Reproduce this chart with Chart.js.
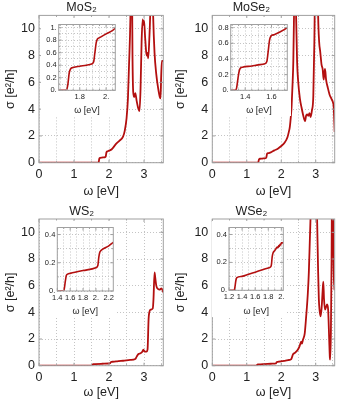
<!DOCTYPE html>
<html>
<head>
<meta charset="utf-8">
<script src="https://cdn.jsdelivr.net/npm/chart.js"></script>
<style>
  html, body { margin: 0; padding: 0; background: #fff; }
  #wrap { position: relative; width: 337px; height: 405px; overflow: hidden; }
  canvas { position: absolute; }
</style>
</head>
<body>
<div id="wrap">
  <canvas id="mos2" width="168" height="200" style="left:0;top:0"></canvas>
  <canvas id="mose2" width="169" height="200" style="left:168px;top:0"></canvas>
  <canvas id="ws2" width="168" height="205" style="left:0;top:200px"></canvas>
  <canvas id="wse2" width="169" height="205" style="left:168px;top:200px"></canvas>
  <canvas id="mos2Inset" width="78" height="98" style="left:41px;top:18px"></canvas>
  <canvas id="mose2Inset" width="78" height="98" style="left:213px;top:18px"></canvas>
  <canvas id="ws2Inset" width="77" height="96" style="left:40px;top:221px"></canvas>
  <canvas id="wse2Inset" width="75" height="96" style="left:212px;top:221px"></canvas>
</div>
<script>
// Optical conductivity sigma(omega) in units of e^2/h, energies in eV
const mos2Energy = [0, 1.60, 1.69, 1.70, 1.71, 1.72, 1.73, 1.75, 1.80, 1.85, 1.89, 1.905, 1.915, 1.925, 1.935, 1.95, 2.00, 2.07,
    2.2, 2.3, 2.4, 2.45, 2.5, 2.54, 2.57, 2.61, 2.63, 2.65, 2.67, 2.69, 2.72, 2.75, 2.79, 2.83, 2.87, 2.90, 2.93, 2.96, 2.98,
    3.00, 3.03, 3.06, 3.08, 3.10, 3.12, 3.15, 3.18, 3.20, 3.23, 3.26, 3.30, 3.35, 3.40, 3.45, 3.47, 3.49, 3.51, 3.55];
const mos2Sigma = [0, 0, 0, 0.01, 0.10, 0.28, 0.34, 0.365, 0.385, 0.40, 0.42, 0.45, 0.60, 0.76, 0.82, 0.84, 0.90, 0.99,
    1.4, 1.65, 1.95, 2.4, 3.3, 4.8, 7.2, 10.8, 15, 15, 8.0, 5.3, 4.9, 5.2, 4.6, 4.1, 3.85, 5.5, 9.0, 10.7, 10.3,
    10.6, 9.4, 8.3, 8.0, 8.2, 7.8, 9.2, 11.5, 15, 15, 11, 8.2, 6.6, 5.6, 4.9, 4.8, 6.5, 7.6, 7.6];

const mose2Energy = [0, 1.30, 1.325, 1.335, 1.345, 1.355, 1.365, 1.38, 1.45, 1.50, 1.55, 1.565, 1.575, 1.585, 1.595, 1.62, 1.66, 1.72,
    1.8, 1.9, 2.0, 2.1, 2.18, 2.22, 2.25, 2.28, 2.30, 2.33, 2.35, 2.37, 2.39, 2.41, 2.43, 2.46, 2.49, 2.54, 2.59, 2.64, 2.69,
    2.72, 2.75, 2.78, 2.82, 2.85, 2.89, 2.93, 2.96, 2.98, 3.00, 3.05, 3.07, 3.10, 3.13, 3.17, 3.20, 3.23, 3.25, 3.27, 3.30,
    3.35, 3.40, 3.46, 3.50, 3.52, 3.55];
const mose2Sigma = [0, 0, 0, 0.03, 0.15, 0.25, 0.285, 0.295, 0.31, 0.325, 0.34, 0.37, 0.50, 0.64, 0.69, 0.71, 0.74, 0.80,
    0.92, 1.05, 1.25, 1.5, 1.9, 2.3, 2.7, 3.5, 4.2, 6.0, 7.6, 11, 15, 15, 11, 7.5, 6.1, 4.8, 4.1, 3.5, 3.1,
    3.5, 3.6, 3.5, 3.7, 3.4, 3.9, 5.0, 9, 13, 15, 15, 11, 9.0, 8.3, 7.3, 7.0, 6.2, 6.7, 7.0, 6.2,
    5.6, 5.1, 4.75, 4.5, 4.2, 2.3];

const ws2Energy = [0, 1.45, 1.50, 1.51, 1.525, 1.54, 1.56, 1.6, 1.8, 2.0, 2.03, 2.045, 2.06, 2.075, 2.1, 2.2, 2.27,
    2.4, 2.6, 2.75, 2.79, 2.84, 2.90, 2.95, 2.98, 3.02, 3.07, 3.10, 3.13, 3.15, 3.19, 3.25, 3.27, 3.30, 3.32, 3.35, 3.38,
    3.44, 3.50, 3.55];
const ws2Sigma = [0, 0, 0, 0.02, 0.07, 0.11, 0.12, 0.125, 0.145, 0.165, 0.18, 0.24, 0.275, 0.285, 0.295, 0.32, 0.345,
    0.37, 0.43, 0.5, 0.68, 0.88, 0.93, 1.05, 1.2, 1.05, 1.05, 1.2, 3.5, 4.0, 4.2, 4.3, 5.0, 7.0, 6.6, 6.0, 5.8,
    5.7, 5.8, 5.5];

const wse2Energy = [0, 1.25, 1.28, 1.29, 1.305, 1.32, 1.4, 1.5, 1.6, 1.7, 1.8, 1.84, 1.85, 1.86, 1.875, 1.9, 1.92, 1.94,
    1.95, 1.96, 1.97, 1.98, 1.99, 2.0, 2.02, 2.1, 2.2, 2.29, 2.32, 2.34, 2.39, 2.48, 2.53, 2.58, 2.60, 2.63, 2.68, 2.72,
    2.77, 2.80, 2.83, 2.86, 2.89, 3.01, 3.04, 3.07, 3.09, 3.11, 3.14, 3.17, 3.20, 3.22, 3.24, 3.27, 3.30, 3.33, 3.36,
    3.39, 3.41, 3.42, 3.44, 3.46, 3.475, 3.49, 3.51, 3.53, 3.55];
const wse2Sigma = [0, 0, 0, 0.02, 0.07, 0.09, 0.10, 0.115, 0.13, 0.145, 0.16, 0.17, 0.19, 0.24, 0.27, 0.285, 0.30, 0.31,
    0.305, 0.32, 0.315, 0.33, 0.325, 0.34, 0.34, 0.37, 0.42, 0.5, 0.7, 0.85, 0.95, 1.2, 1.45, 1.8, 1.65, 1.95, 2.4, 3.6,
    5.4, 7.0, 9.5, 12, 15, 15, 11, 7.0, 5.0, 4.2, 3.7, 4.3, 5.6, 6.3, 5.0, 4.2, 4.4, 4.6, 4.2,
    2.0, 0.6, 0.45, 2.5, 8, 15, 15, 9, 5.7, 5.9];

const FONT = "'Liberation Sans', Arial, sans-serif";
const RED = '#b30f0f';
const GRID = '#c4c4c4';
const FRAME = '#a0a0a0';
const TEXT = '#222';

// white background, grey frame with small inward ticks (Mathematica style)
const framePlugin = {
    id: 'frame',
    beforeDraw(chart) {
        const { ctx, width, height } = chart;
        ctx.save();
        ctx.fillStyle = '#ffffff';
        ctx.fillRect(0, 0, width, height);
        ctx.restore();
    },
    afterDraw(chart) {
        const { ctx, chartArea: a } = chart;
        const xs = chart.scales.x, ys = chart.scales.y;
        ctx.save();
        ctx.strokeStyle = FRAME;
        ctx.lineWidth = 1;
        ctx.beginPath();
        xs.ticks.forEach(t => {
            const px = xs.getPixelForValue(t.value);
            const len = t.label ? 3 : 1.5;
            ctx.moveTo(px, a.bottom); ctx.lineTo(px, a.bottom - len);
            ctx.moveTo(px, a.top); ctx.lineTo(px, a.top + len);
        });
        ys.ticks.forEach(t => {
            const py = ys.getPixelForValue(t.value);
            const len = t.label ? 3 : 1.5;
            ctx.moveTo(a.left, py); ctx.lineTo(a.left + len, py);
            ctx.moveTo(a.right, py); ctx.lineTo(a.right - len, py);
        });
        ctx.stroke();
        ctx.strokeRect(a.left, a.top, a.right - a.left, a.bottom - a.top);
        ctx.restore();
    }
};

function lineDataset(energy, sigma, width) {
    return {
        data: energy.map((e, i) => ({ x: e, y: sigma[i] })),
        borderColor: RED,
        borderWidth: width,
        pointRadius: 0,
        fill: false,
        cubicInterpolationMode: 'monotone'
    };
}

// Mathematica-like tick labels: "0.", "0.2", "2."
function tickLabel(every, dotted) {
    return v => {
        const k = v / every;
        if (Math.abs(k - Math.round(k)) > 1e-6) return '';
        const r = Math.round(v * 100) / 100;
        return Number.isInteger(r) ? (dotted ? r + '.' : String(r)) : String(r);
    };
}

function axis(min, max, step, labelEvery, dotted, size, pad, fit) {
    return {
        type: 'linear',
        min: min,
        max: max,
        border: { display: false, dash: [1, 2] },
        grid: { color: GRID, drawTicks: false, lineWidth: 1 },
        ticks: {
            stepSize: step,
            includeBounds: false,
            autoSkip: false,
            maxRotation: 0,
            padding: pad,
            color: TEXT,
            font: { family: FONT, size: size },
            callback: tickLabel(labelEvery, dotted)
        },
        afterFit: fit
    };
}

function initPanel(canvasId, title, energy, sigma, box) {
    const canvas = document.getElementById(canvasId);
    const x = axis(0, 3.55, 0.5, 1, false, 12.5, 4, s => { s.height = box.xHeight; });
    x.title = { display: true, text: 'ω [eV]', color: TEXT, font: { family: FONT, size: 12.5 }, padding: { top: 0, bottom: box.xTitlePad } };
    const y = axis(0, 11, 2, 2, false, 12.5, 4, s => { s.width = box.yWidth; });
    y.title = { display: true, text: 'σ [e²/h]', color: TEXT, font: { family: FONT, size: 12.5 }, padding: { top: box.yTitlePad, bottom: 0 } };
    return new Chart(canvas, {
        type: 'line',
        data: { datasets: [lineDataset(energy, sigma, 1.8)] },
        options: {
            responsive: false,
            animation: false,
            layout: { autoPadding: false, padding: { top: 0, right: box.padRight, bottom: 0, left: 0 } },
            plugins: {
                legend: { display: false },
                tooltip: { enabled: false },
                title: { display: true, text: title, color: TEXT, font: { family: FONT, size: 12.5, weight: 'normal' }, padding: box.titlePad }
            },
            scales: { x: x, y: y }
        },
        plugins: [framePlugin]
    });
}

function initInset(canvasId, energy, sigma, box) {
    const canvas = document.getElementById(canvasId);
    const x = axis(box.xMin, box.xMax, box.xStep, 0.2, true, 7.5, 2, s => { s.height = box.xHeight; });
    x.title = { display: true, text: 'ω [eV]', color: TEXT, font: { family: FONT, size: 9 }, padding: { top: 0, bottom: 0 } };
    const y = axis(0, box.yMax, 0.1, 0.2, true, 7.5, 2, s => { s.width = box.yWidth; });
    return new Chart(canvas, {
        type: 'line',
        data: { datasets: [lineDataset(energy, sigma, 1.6)] },
        options: {
            responsive: false,
            animation: false,
            layout: { autoPadding: false, padding: { top: box.padTop, right: 3.7, bottom: 0, left: 0 } },
            plugins: { legend: { display: false }, tooltip: { enabled: false }, title: { display: false } },
            scales: { x: x, y: y }
        },
        plugins: [framePlugin]
    });
}

initPanel('mos2', 'MoS₂', mos2Energy, mos2Sigma,
    { yWidth: 39, xHeight: 37.3, padRight: 4.7, titlePad: { top: 0, bottom: 0.4 }, xTitlePad: 1, yTitlePad: 3 });
initPanel('mose2', 'MoSe₂', mose2Energy, mose2Sigma,
    { yWidth: 44.3, xHeight: 37.3, padRight: 2.2, titlePad: { top: 0, bottom: 0.4 }, xTitlePad: 1, yTitlePad: 5 });
initPanel('ws2', 'WS₂', ws2Energy, ws2Sigma,
    { yWidth: 39, xHeight: 39.3, padRight: 4.7, titlePad: { top: 4, bottom: 0 }, xTitlePad: 5, yTitlePad: 3 });
initPanel('wse2', 'WSe₂', wse2Energy, wse2Sigma,
    { yWidth: 44.3, xHeight: 39.3, padRight: 2.2, titlePad: { top: 4, bottom: 0 }, xTitlePad: 5, yTitlePad: 5 });

initInset('mos2Inset', mos2Energy, mos2Sigma,
    { xMin: 1.64, xMax: 2.07, xStep: 0.05, yMax: 1.05, yWidth: 17.7, xHeight: 25.7, padTop: 5.3 });
initInset('mose2Inset', mose2Energy, mose2Sigma,
    { xMin: 1.29, xMax: 1.72, xStep: 0.05, yMax: 0.84, yWidth: 17.7, xHeight: 25.7, padTop: 4.7 });
initInset('ws2Inset', ws2Energy, ws2Sigma,
    { xMin: 1.4, xMax: 2.27, xStep: 0.1, yMax: 0.45, yWidth: 17.3, xHeight: 26, padTop: 5 });
initInset('wse2Inset', wse2Energy, wse2Sigma,
    { xMin: 1.2, xMax: 2.03, xStep: 0.1, yMax: 0.45, yWidth: 17, xHeight: 26.7, padTop: 5 });
</script>
</body>
</html>
